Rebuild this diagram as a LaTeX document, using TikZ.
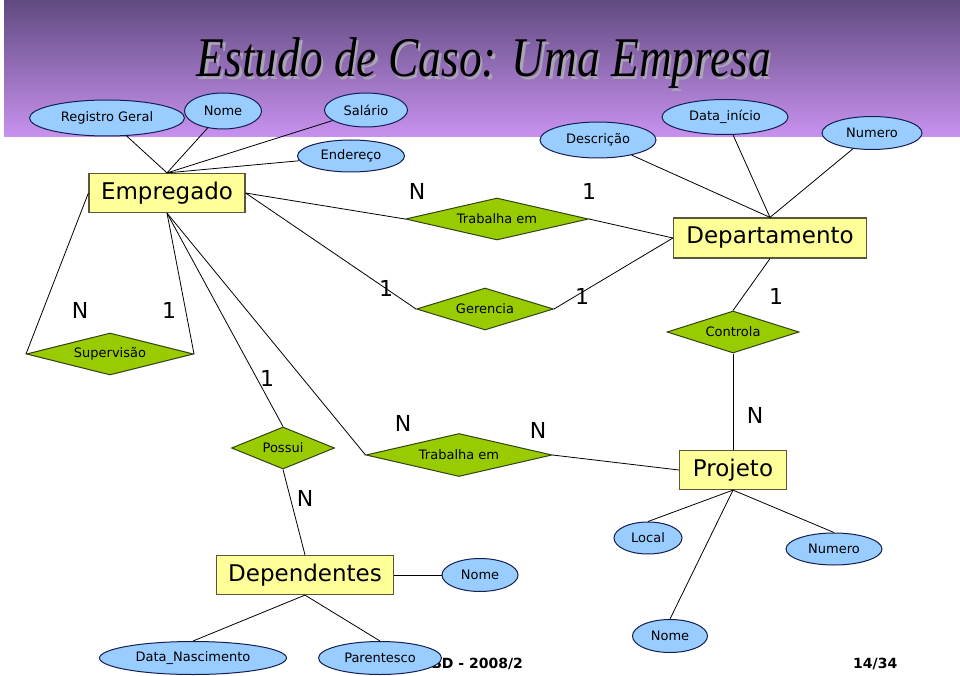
\documentclass[tikz,border=0pt]{standalone}
\usepackage{fontspec}
\setmainfont{DejaVu Sans}
\newfontfamily\titlefont{Liberation Serif}
\usepackage{tikz}
\usetikzlibrary{shapes.geometric}
\usepackage{xcolor}
\definecolor{ColBand}{RGB}{96,74,128}
\definecolor{ColBandLow}{RGB}{200,146,240}
\definecolor{ColShadow}{RGB}{170,165,180}
\definecolor{ColEnt}{RGB}{255,255,153}
\definecolor{ColEntLine}{RGB}{90,86,60}
\definecolor{ColRel}{RGB}{153,204,0}
\definecolor{ColRelLine}{RGB}{50,66,20}
\definecolor{ColAttr}{RGB}{153,204,255}
\definecolor{ColAttrLine}{RGB}{20,30,80}
\tikzstyle{EntityBox}=[rectangle,draw=ColEntLine,fill=ColEnt,inner sep=0pt,line width=1.2pt,
font=\fontsize{23}{27}\selectfont]
\tikzstyle{RelDiamond}=[diamond,draw=ColRelLine,fill=ColRel,inner sep=0pt,aspect=4,line width=1pt,
font=\fontsize{13}{15}\selectfont]
\tikzstyle{AttrEllipse}=[ellipse,draw=ColAttrLine,fill=ColAttr,inner sep=0pt,line width=1pt,
font=\fontsize{13}{15}\selectfont]
\tikzstyle{CardLabel}=[inner sep=0pt,font=\fontsize{22}{26}\selectfont]
\tikzstyle{EdgeER}=[black,line width=0.8pt]
\tikzstyle{TitleText}=[anchor=base,font=\titlefont\itshape\fontsize{56}{60}\selectfont]
\begin{document}
\begin{tikzpicture}[x=1pt,y=-1pt]
        \useasboundingbox[fill=white](0,0)rectangle(960,676);
        \shade[top color=ColBand,bottom color=ColBandLow](4,0)rectangle(960,137);
        \node[TitleText,ColShadow](titleshadow)at(486.5,79.5){\scalebox{0.81}[1]{Estudo de Caso: Uma Empresa}};
        \node[TitleText,black](title)at(484,77){\scalebox{0.81}[1]{Estudo de Caso: Uma Empresa}};
        % footer
        \node[anchor=base west,inner sep=0pt,font=\bfseries\fontsize{14}{16}\selectfont](footer)at(421,668){SBD - 2008/2};
        \node[anchor=base west,inner sep=0pt,font=\bfseries\fontsize{14}{16}\selectfont](page)at(853,668){14/34};
        % entities
        \node[EntityBox,minimum width=156,minimum height=39](emp)at(167,193){Empregado};
        \node[EntityBox,minimum width=193,minimum height=40](dep)at(770,238){Departamento};
        \node[EntityBox,minimum width=107,minimum height=39](proj)at(733,470){Projeto};
        \node[EntityBox,minimum width=177,minimum height=39](depd)at(305,575){Dependentes};
        % relationships
        \node[RelDiamond,minimum width=183,minimum height=42](trab)at(497,219){Trabalha em};
        \node[RelDiamond,minimum width=137,minimum height=42](ger)at(485,309){Gerencia};
        \node[RelDiamond,minimum width=132,minimum height=42](ctrl)at(733,332){Controla};
        \node[RelDiamond,minimum width=167,minimum height=42](sup)at(110,354){Supervisão};
        \node[RelDiamond,minimum width=103,minimum height=42](pos)at(283,448){Possui};
        \node[RelDiamond,minimum width=186,minimum height=43](trabp)at(459,455){Trabalha em};
        % attributes
        \node[AttrEllipse,minimum width=155,minimum height=36](rg)at(107,118){Registro Geral};
        \node[AttrEllipse,minimum width=77,minimum height=36](nome)at(223,111){Nome};
        \node[AttrEllipse,minimum width=83,minimum height=34](sal)at(366,110){Salário};
        \node[AttrEllipse,minimum width=107,minimum height=32](end)at(351,156){Endereço};
        \node[AttrEllipse,minimum width=116,minimum height=36](desc)at(598,140){Descrição};
        \node[AttrEllipse,minimum width=126,minimum height=35](dini)at(725,117){Data\_início};
        \node[AttrEllipse,minimum width=100,minimum height=33](numd)at(872,133){Numero};
        \node[AttrEllipse,minimum width=76,minimum height=33](nomed)at(480,575){Nome};
        \node[AttrEllipse,minimum width=187,minimum height=33](dnasc)at(193,658){Data\_Nascimento};
        \node[AttrEllipse,minimum width=123,minimum height=33](par)at(380,658){Parentesco};
        \node[AttrEllipse,minimum width=68,minimum height=32](loc)at(648,538){Local};
        \node[AttrEllipse,minimum width=96,minimum height=32](nump)at(834,549){Numero};
        \node[AttrEllipse,minimum width=75,minimum height=33](nomep)at(670,636){Nome};
        % connectors
        \draw[EdgeER](emp.north)--(rg);
        \draw[EdgeER](emp.north)--(nome);
        \draw[EdgeER](emp.north)--(sal);
        \draw[EdgeER](emp.north)--(end);
        \draw[EdgeER](dep.north)--(desc);
        \draw[EdgeER](dep.north)--(dini);
        \draw[EdgeER](dep.north)--(numd);
        \draw[EdgeER](emp.east)--(trab.west);
        \draw[EdgeER](trab.east)--(dep.west);
        \draw[EdgeER](emp.east)--(ger.west);
        \draw[EdgeER](ger.east)--(dep.west);
        \draw[EdgeER](dep.south)--(ctrl.north);
        \draw[EdgeER](ctrl.south)--(proj.north);
        \draw[EdgeER](emp.west)--(sup.west);
        \draw[EdgeER](emp.south)--(sup.east);
        \draw[EdgeER](emp.south)--(pos.north);
        \draw[EdgeER](emp.south)--(trabp.west);
        \draw[EdgeER](trabp.east)--(proj.west);
        \draw[EdgeER](pos.south)--(depd.north);
        \draw[EdgeER](depd.east)--(nomed.west);
        \draw[EdgeER](depd.south)--(dnasc.north);
        \draw[EdgeER](depd.south)--(par.north);
        \draw[EdgeER](proj.south)--(loc.north);
        \draw[EdgeER](proj.south)--(nomep.north);
        \draw[EdgeER](proj.south)--(nump.north);
        % cardinalities
        \node[CardLabel](c1)at(417,191){N};
        \node[CardLabel](c2)at(589,191){1};
        \node[CardLabel](c3)at(80,310){N};
        \node[CardLabel](c4)at(169,310){1};
        \node[CardLabel](c5)at(386,288){1};
        \node[CardLabel](c6)at(582,296){1};
        \node[CardLabel](c7)at(776,296){1};
        \node[CardLabel](c8)at(267,378){1};
        \node[CardLabel](c9)at(403,423){N};
        \node[CardLabel](c10)at(538,430){N};
        \node[CardLabel](c11)at(755,415){N};
        \node[CardLabel](c12)at(305,498){N};
    \end{tikzpicture}
\end{document}
